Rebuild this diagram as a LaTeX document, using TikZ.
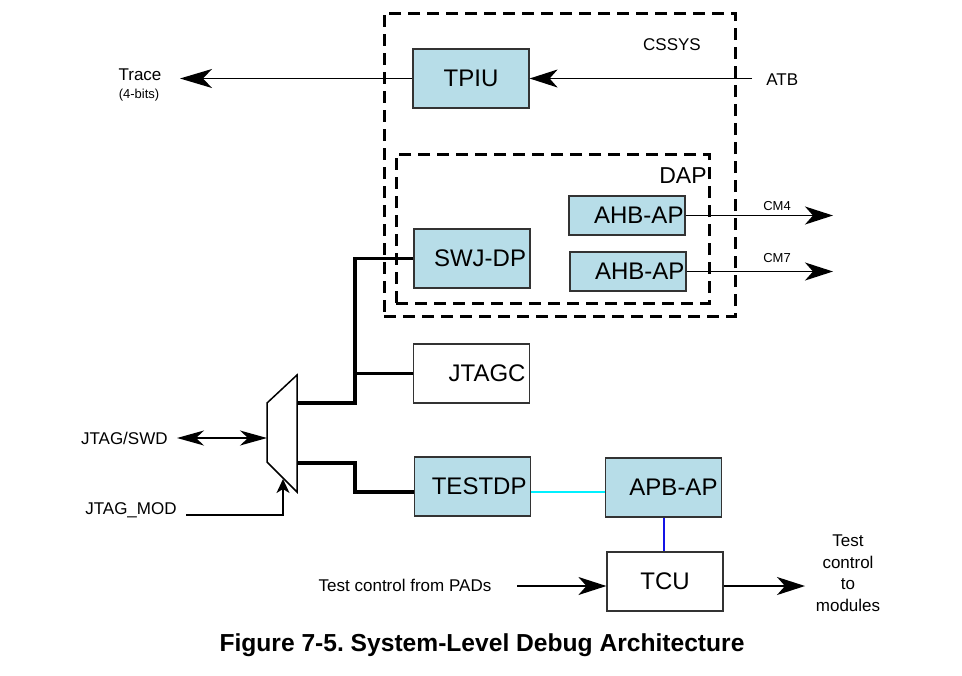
\documentclass[tikz,border=0pt]{standalone}
\usepackage{fontspec}
\setmainfont{Liberation Sans}
\usetikzlibrary{arrows.meta}
\definecolor{boxblue}{RGB}{183,221,232}
\definecolor{tstcyan}{RGB}{0,240,255}
\definecolor{tcublue}{RGB}{20,20,230}
\frenchspacing

\begin{document}
\begin{tikzpicture}[x=0.5pt, y=-0.5pt,
  blk/.style={draw=black!80, line width=0.6pt, minimum width=58pt, minimum height=29.5pt,
    inner sep=0pt, font=\fontsize{12}{14}\selectfont, text width=54pt, align=right},
  bluebox/.style={blk, fill=boxblue},
  dashbox/.style={draw, line width=1.5pt, dash pattern=on 6pt off 3.5pt, inner sep=0pt},
  lbl/.style={font=\fontsize{8.5}{10.75}\selectfont, inner sep=0pt},
  tiny/.style={font=\fontsize{6.5}{8}\selectfont, inner sep=0pt},
  sig/.style={line width=0.75pt},
  bus/.style={line width=1.6pt},
  bigtip/.style={-{Stealth[length=14pt, width=9pt, inset=4pt]}}]
\useasboundingbox (0,0) rectangle (962,675);

% CSSYS and DAP
\node (cssys) [dashbox, minimum width=175.5pt, minimum height=151.5pt] at (559.5,164.5) {};
\node (dap) [dashbox, minimum width=156.5pt, minimum height=74.5pt] at (552.5,228.5) {};
\node (cssyslbl) [lbl] at (672,45) {CSSYS};
\node (daplbl) [font=\fontsize{11.5}{13}\selectfont, inner sep=0pt] at (683,176) {DAP};

\node (tpiu) [bluebox, align=center] at (471,78.5) {TPIU};
\node (swjdp) [bluebox] at (472,258.5) {SWJ-DP};
\node (ahbone) [bluebox, minimum height=19.5pt, text width=56.5pt] at (627,215.5) {AHB-AP};
\node (ahbtwo) [bluebox, minimum height=19.5pt, text width=56.5pt] at (628,271.5) {AHB-AP};
\node (jtagc) [blk] at (471.5,373.5) {JTAGC};
\node (testdp) [bluebox] at (472.5,486.5) {TESTDP};
\node (apbap) [bluebox] at (663.5,487.5) {APB-AP};
\node (tcu) [blk, align=center] at (665,581.5) {TCU};

% trace and ATB
\coordinate (traceend) at (180,78.5);
\draw [sig, -{Stealth[length=16pt, width=9.5pt, inset=4.5pt]}] (tpiu.west) -- (traceend);
\node (trace) [lbl] at (140,75) {Trace};
\node (bits) [tiny] at (139,95) {(4-bits)};
\coordinate (atbin) at (752,78.5);
\draw [sig, bigtip] (atbin) -- (tpiu.east);
\node (atb) [lbl, anchor=west] at (766,80) {ATB};

% AHB-AP outputs
\coordinate (cmfour) at (833,215.5);
\coordinate (cmseven) at (833,271.5);
\draw [sig, bigtip] (ahbone.east) -- (cmfour);
\draw [sig, bigtip] (ahbtwo.east) -- (cmseven);
\node (cmfourlbl) [tiny] at (777,206) {CM4};
\node (cmsevenlbl) [tiny] at (777,258) {CM7};

% mux
\coordinate (muxin) at (267,438);
\coordinate (muxa) at (297,403);
\coordinate (muxb) at (297,463);
\coordinate (muxsel) at (283,479);
\draw [sig] (267,403) -- (297,375) -- (297,492) -- (267,462) -- cycle;

\coordinate (tap) at (355,403);
\coordinate (bend) at (355,463);
\draw [bus] (swjdp.west) -| (tap) -- (muxa);
\draw [bus] (jtagc.west) -- (jtagc.west -| tap);
\draw [bus] (muxb) -- (bend) |- ([yshift=-2.75pt]testdp.west);

\coordinate (jsend) at (177,438);
\draw [sig, {Stealth[length=13.5pt, width=7.5pt, inset=4pt]}-{Stealth[length=13.5pt, width=7.5pt, inset=4pt]}] (jsend) -- (muxin);
\node (jtagswd) [lbl, anchor=east] at (168,438) {JTAG/SWD};
\coordinate (modstart) at (186,515);
\draw [sig, -{Stealth[length=7pt, width=6.5pt, inset=2pt]}] (modstart) -| (muxsel);
\node (jtagmod) [lbl, anchor=east] at (177,510) {JTAG\_MOD};

% test path
\draw [draw=tstcyan, line width=1pt] ([yshift=-2.5pt]testdp.east) -- ([yshift=-2.5pt]testdp.east -| apbap.west);
\draw [draw=tcublue, line width=1pt] (apbap.south) -- (apbap.south |- tcu.north);

\coordinate (padin) at (517,586);
\coordinate (modout) at (805,586);
\draw [sig, bigtip] (padin) -- ([yshift=-2.25pt]tcu.west);
\draw [sig, bigtip] ([yshift=-2.25pt]tcu.east) -- (modout);
\node (pads) [lbl] at (405,585) {Test control from PADs};
\node (modules) [lbl, align=center] at (848,573) {Test\\control\\to\\modules};

\node (caption) [font=\bfseries\fontsize{12.3}{14}\selectfont] at (482,645) {Figure 7-5. System-Level Debug Architecture};
\end{tikzpicture}
\end{document}
